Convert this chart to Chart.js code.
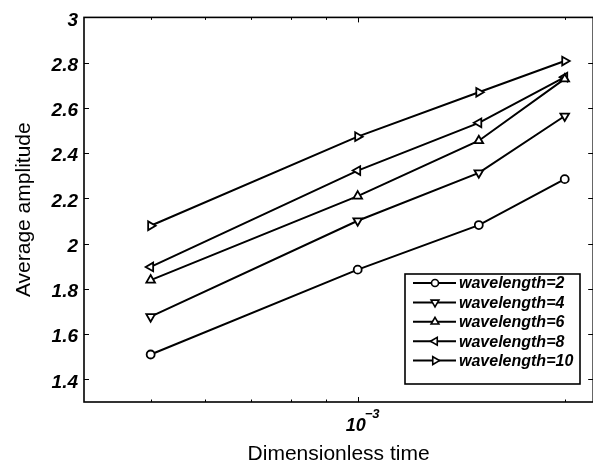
<!DOCTYPE html>
<html>
<head>
<meta charset="utf-8">
<script src="https://cdn.jsdelivr.net/npm/chart.js@4.4.0/dist/chart.umd.min.js"></script>
<style>
  html, body { margin: 0; padding: 0; overflow: hidden; background: #fff; }
  #wrap { width: 600px; height: 465px; }
</style>
</head>
<body>
<div id="wrap"><canvas id="grafico" width="600" height="465"></canvas></div>
<script>
// dados
const tempos = [5e-4, 1e-3, 1.5e-3, 2e-3];
const amp2 = [1.51, 1.885, 2.082, 2.285];
const amp4 = [1.677, 2.101, 2.313, 2.564];
const amp6 = [1.839, 2.21, 2.455, 2.728];
const amp8 = [1.897, 2.323, 2.534, 2.736];
const amp10 = [2.079, 2.473, 2.669, 2.807];
const rotulos = ["wavelength=2", "wavelength=4", "wavelength=6", "wavelength=8", "wavelength=10"];
const yTicks = [1.4, 1.6, 1.8, 2, 2.2, 2.4, 2.6, 2.8, 3];
const xTicks = [5e-4, 6e-4, 7e-4, 8e-4, 9e-4, 1e-3, 2e-3];
const xTicksMaiores = [1e-3];

const fonte = "'Liberation Sans', Arial, Helvetica, sans-serif";
Chart.defaults.font.family = fonte;
Chart.defaults.color = "#000";

function pontos(valores) {
  let lista = [];
  for (let i = 0; i < tempos.length; i++) {
    lista.push({ x: tempos[i], y: valores[i] });
  }
  return lista;
}

function serie(label, valores, estilo, rotacao, raio) {
  return {
    label: label,
    data: pontos(valores),
    borderColor: "#000",
    borderWidth: 2,
    pointStyle: estilo,
    pointRotation: rotacao,
    pointRadius: raio,
    pointBorderWidth: 1.8,
    pointBackgroundColor: "#fff",
    pointBorderColor: "#000",
    tension: 0,
    fill: false,
  };
}

// moldura estilo matlab, com ticks para dentro
const moldura = {
  id: "moldura",
  afterDatasetsDraw(chart) {
    const ctx = chart.ctx;
    const a = chart.chartArea;
    const sx = chart.scales.x;
    const sy = chart.scales.y;
    ctx.save();
    ctx.strokeStyle = "#000";
    ctx.lineWidth = 1;
    ctx.beginPath();
    yTicks.forEach((v) => {
      const py = Math.round(sy.getPixelForValue(v)) + 0.5;
      ctx.moveTo(a.left, py); ctx.lineTo(a.left + 5, py);
      ctx.moveTo(a.right, py); ctx.lineTo(a.right - 5, py);
    });
    xTicks.forEach((v) => {
      const px = Math.round(sx.getPixelForValue(v)) + 0.5;
      const t = xTicksMaiores.includes(v) ? 5 : 2.5;
      ctx.moveTo(px, a.bottom); ctx.lineTo(px, a.bottom - t);
      ctx.moveTo(px, a.top); ctx.lineTo(px, a.top + t);
    });
    ctx.stroke();
    ctx.lineWidth = 1.6;
    ctx.strokeRect(a.left, a.top, a.right - a.left, a.bottom - a.top);

    // rotulo 10^-3
    xTicksMaiores.forEach((v) => {
      const px = sx.getPixelForValue(v);
      ctx.fillStyle = "#000";
      ctx.font = "italic bold 18px " + fonte;
      ctx.textAlign = "center";
      ctx.textBaseline = "alphabetic";
      const w = ctx.measureText("10").width;
      ctx.fillText("10", px - 2, a.bottom + 29);
      ctx.font = "italic bold 13px " + fonte;
      ctx.textAlign = "left";
      ctx.fillText("\u2212" + Math.round(-Math.log10(v)), px - 2 + w / 2 - 1, a.bottom + 16);
    });
    ctx.restore();
  },
  afterDraw(chart) {
    // legenda dentro do grafico
    const ctx = chart.ctx;
    const bx = 405, by = 274, bw = 175, bh = 110;
    ctx.save();
    ctx.fillStyle = "#fff";
    ctx.fillRect(bx, by, bw, bh);
    ctx.strokeStyle = "#000";
    ctx.lineWidth = 1.6;
    ctx.strokeRect(bx, by, bw, bh);
    chart.data.datasets.forEach((ds, i) => {
      const ly = by + 9 + i * 19.4;
      ctx.strokeStyle = "#000";
      ctx.lineWidth = 2;
      ctx.beginPath();
      ctx.moveTo(bx + 8, ly);
      ctx.lineTo(bx + 51, ly);
      ctx.stroke();
      ctx.fillStyle = "#fff";
      ctx.lineWidth = 1.6;
      Chart.helpers.drawPoint(ctx, {
        pointStyle: ds.pointStyle,
        rotation: ds.pointRotation,
        radius: ds.pointRadius - 0.5,
        borderWidth: 1.6,
      }, bx + 30, ly);
      ctx.fillStyle = "#000";
      ctx.font = "italic bold 16px " + fonte;
      ctx.textAlign = "left";
      ctx.textBaseline = "middle";
      ctx.fillText(ds.label, bx + 54, ly + 1);
    });
    ctx.restore();
  },
};

const grafico = new Chart(document.getElementById("grafico").getContext("2d"), {
  type: "line",
  data: {
    datasets: [
      serie(rotulos[0], amp2, "circle", 0, 4),
      serie(rotulos[1], amp4, "triangle", 180, 5),
      serie(rotulos[2], amp6, "triangle", 0, 5),
      serie(rotulos[3], amp8, "triangle", 270, 5),
      serie(rotulos[4], amp10, "triangle", 90, 5),
    ],
  },
  options: {
    animation: false,
    responsive: false,
    layout: { padding: { top: 14, right: 4, left: 0, bottom: 0 } },
    plugins: {
      legend: { display: false },
      tooltip: { enabled: false },
    },
    scales: {
      x: {
        type: "logarithmic",
        min: 4e-4,
        max: 2.2e-3,
        grid: { display: false },
        border: { display: false },
        ticks: { display: false },
        afterBuildTicks: (s) => { s.ticks = xTicks.map((v) => ({ value: v })); },
        afterFit: (s) => { s.height = 63; },
        title: {
          display: true,
          text: "Dimensionless time",
          font: { size: 21, lineHeight: 1 },
          padding: { top: 0, bottom: 0 },
        },
      },
      y: {
        min: 1.3,
        max: 3,
        grid: { display: false, drawTicks: false },
        border: { display: false },
        afterBuildTicks: (s) => { s.ticks = yTicks.map((v) => ({ value: v })); },
        afterFit: (s) => { s.width = 84; },
        ticks: {
          padding: 6,
          labelOffset: 3,
          font: { size: 19, style: "italic", weight: "bold" },
          callback: (v) => String(+Number(v).toFixed(1)),
        },
        title: {
          display: true,
          text: "Average amplitude",
          font: { size: 21, lineHeight: 1 },
          padding: { top: 14, bottom: 0 },
        },
      },
    },
  },
  plugins: [moldura],
});
</script>
</body>
</html>
